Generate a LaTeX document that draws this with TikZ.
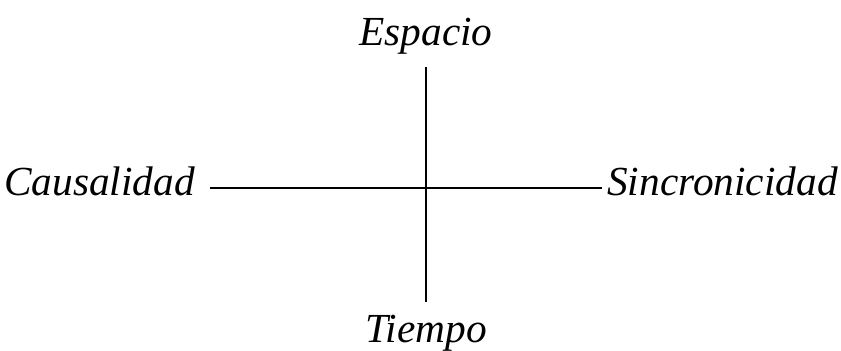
\documentclass[tikz,border=0pt]{standalone}
\usepackage{fontspec}
\setmainfont{Liberation Serif}
\tikzset{
  eje/.style={font=\fontsize{31}{36}\selectfont\itshape, inner sep=0pt},
}
\begin{document}
\begin{tikzpicture}[x=0.75pt,y=0.75pt,yscale=-1,xscale=1]
%set diagram size
\path (0,0) rectangle (841,350);

% Text Node
\node (esp) at (426,45) [eje, anchor=base] {Espacio};
% Text Node
\node (tie) at (426,342) [eje, anchor=base] {Tiempo};
% Text Node
\node (cau) at (195,195) [eje, anchor=base east] {Causalidad};
% Text Node
\node (sin) at (607,195) [eje, anchor=base west] {Sincronicidad};

\coordinate (arriba) at (426,67);
\coordinate (abajo) at (426,302);
\coordinate (izq) at (210,188);
\coordinate (der) at (602,188);

%Straight Lines
\draw [line width=2.2pt] (izq) -- (der) ;
%Straight Lines
\draw [line width=1.4pt] (arriba) -- (abajo) ;

\end{tikzpicture}
\end{document}
